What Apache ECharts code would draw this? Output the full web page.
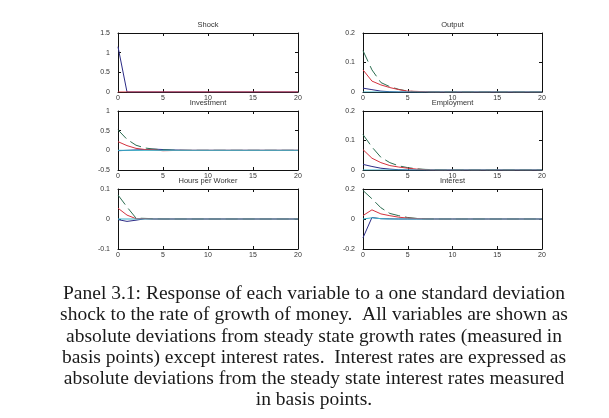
<!DOCTYPE html>
<html>
<head>
<meta charset="utf-8">
<title>Panel 3.1</title>
<script src="https://cdn.jsdelivr.net/npm/echarts@6/dist/echarts.min.js"></script>
<style>
  html, body { margin: 0; padding: 0; background: #fff; }
  #main { width: 609px; height: 418px; }
</style>
</head>
<body>
<div id="main"></div>
<script type="text/javascript">
// quarters after the shock
var steps = [0,1,2,3,4,5,6,7,8,9,10,11,12,13,14,15,16,17,18,19,20];

var panelNames = ['Shock', 'Output', 'Investment', 'Employment', 'Hours per Worker', 'Interest'];

var shockBlue   = [1.15,0,0,0,0,0,0,0,0,0,0,0,0,0,0,0,0,0,0,0,0];
var shockRed    = [0,0,0,0,0,0,0,0,0,0,0,0,0,0,0,0,0,0,0,0,0];

var outputBlue  = [0.013,0.008,0.003,0.001,0,0,0,0,0,0,0,0,0,0,0,0,0,0,0,0,0];
var outputGreen = [0.14,0.075,0.032,0.018,0.009,0.003,0.001,0,0,0,0,0,0,0,0,0,0,0,0,0,0];
var outputRed   = [0.075,0.037,0.024,0.015,0.008,0.003,0.002,0.001,0,0,0,0,0,0,0,0,0,0,0,0,0];
var outputCyan  = [0,0,0,0,0,0,0,0,0,0,0,0,0,0,0,0,0,0,0,0,0];

var invBlue     = [-0.01,0,0.01,0.02,0.03,0.02,0.01,0.005,0,0,0,0,0,0,0,0,0,0,0,0,0];
var invGreen    = [0.52,0.28,0.13,0.06,0.03,0.015,0.005,0,0,0,0,0,0,0,0,0,0,0,0,0,0];
var invRed      = [0.22,0.12,0.05,0.02,0.01,-0.01,-0.005,0,0,0,0,0,0,0,0,0,0,0,0,0,0];
var invCyan     = [0,0,0,0,0,0,0,0,0,0,0,0,0,0,0,0,0,0,0,0,0];

var empBlue     = [0.019,0.012,0.006,0.003,0.001,0,0,0,0,0,0,0,0,0,0,0,0,0,0,0,0];
var empGreen    = [0.12,0.078,0.043,0.025,0.014,0.008,0.004,0.002,0.001,0,0,0,0,0,0,0,0,0,0,0,0];
var empRed      = [0.069,0.04,0.025,0.015,0.01,0.006,0.003,0.001,0,0,0,0,0,0,0,0,0,0,0,0,0];
var empCyan     = [0,0,0,0,0,0,0,0,0,0,0,0,0,0,0,0,0,0,0,0,0];

var hoursBlue   = [-0.002,-0.008,-0.004,0.001,0,0,0,0,0,0,0,0,0,0,0,0,0,0,0,0,0];
var hoursGreen  = [0.08,0.04,0.003,0.002,0.001,0,0,0,0,0,0,0,0,0,0,0,0,0,0,0,0];
var hoursRed    = [0.036,0.013,0.001,0.001,0,0,0,0,0,0,0,0,0,0,0,0,0,0,0,0,0];
var hoursCyan   = [0,0,0,0,0,0,0,0,0,0,0,0,0,0,0,0,0,0,0,0,0];

var intBlue     = [-0.125,0.01,0.002,0.001,0,0,0,0,0,0,0,0,0,0,0,0,0,0,0,0,0];
var intGreen    = [0.19,0.135,0.075,0.037,0.022,0.01,0.004,0.001,0,0,0,0,0,0,0,0,0,0,0,0,0];
var intRed      = [0.023,0.061,0.034,0.022,0.012,0.006,0.003,0.001,0,0,0,0,0,0,0,0,0,0,0,0,0];
var intCyan     = [0,0.008,0.002,0,0,0,0,0,0,0,0,0,0,0,0,0,0,0,0,0,0];

var yMins      = [0, 0, -0.5, 0, -0.1, -0.2];
var yMaxs      = [1.5, 0.2, 1, 0.2, 0.1, 0.2];
var yIntervals = [0.5, 0.1, 0.5, 0.1, 0.1, 0.2];

var captionLines = [
  'Panel 3.1: Response of each variable to a one standard deviation',
  'shock to the rate of growth of money.  All variables are shown as',
  'absolute deviations from steady state growth rates (measured in',
  'basis points) except interest rates.  Interest rates are expressed as',
  'absolute deviations from the steady state interest rates measured',
  'in basis points.'
];

// blue, green, red, cyan per panel (shock has only blue + red)
var panelSeries = [
  [shockBlue, null, shockRed, null],
  [outputBlue, outputGreen, outputRed, outputCyan],
  [invBlue, invGreen, invRed, invCyan],
  [empBlue, empGreen, empRed, empCyan],
  [hoursBlue, hoursGreen, hoursRed, hoursCyan],
  [intBlue, intGreen, intRed, intCyan]
];
var lineColors = ['#2c2c86', '#2b6d50', '#d4323e', '#3cb3c9'];

var myChart = echarts.init(document.getElementById('main'));

var colLeft = [118, 363], colWidth = [180, 179];
var rowTop = [33, 111, 189], rowHeight = [59, 59, 60];
var tickFont = 'Liberation Sans';

var grids = [], xAxes = [], yAxes = [], series = [], graphics = [];
for (var i = 0; i < 6; i++) {
  var c = i % 2, r = Math.floor(i / 2);
  grids.push({ left: colLeft[c], top: rowTop[r], width: colWidth[c], height: rowHeight[r] });
  var line = { show: true, onZero: false, lineStyle: { color: '#111', width: 1 } };
  var tick = { show: true, inside: true, length: 3, lineStyle: { color: '#111' } };
  xAxes.push({
    gridIndex: i, type: 'value', position: 'bottom', min: 0, max: 20, interval: 5,
    axisLine: line, axisTick: tick, splitLine: { show: false },
    axisLabel: { fontSize: 7, margin: 3, color: '#333', fontFamily: tickFont }
  });
  xAxes.push({
    gridIndex: i, type: 'value', position: 'top', min: 0, max: 20, interval: 5,
    axisLine: line, axisTick: tick, splitLine: { show: false }, axisLabel: { show: false }
  });
  yAxes.push({
    gridIndex: i, type: 'value', position: 'left', min: yMins[i], max: yMaxs[i], interval: yIntervals[i],
    axisLine: line, axisTick: tick, splitLine: { show: false },
    axisLabel: { fontSize: 7, margin: 8, color: '#333', fontFamily: tickFont }
  });
  yAxes.push({
    gridIndex: i, type: 'value', position: 'right', min: yMins[i], max: yMaxs[i], interval: yIntervals[i],
    axisLine: line, axisTick: tick, splitLine: { show: false }, axisLabel: { show: false }
  });
  for (var k = 0; k < 4; k++) {
    var vals = panelSeries[i][k];
    if (!vals) continue;
    series.push({
      type: 'line',
      xAxisIndex: 2 * i, yAxisIndex: 2 * i,
      showSymbol: false, symbol: 'none', animation: false,
      lineStyle: { color: lineColors[k], width: 1, type: k === 1 ? [12, 5] : 'solid' },
      data: steps.map(function (s, j) { return [s, vals[j]]; })
    });
  }
  graphics.push({
    type: 'text',
    x: colLeft[c] + colWidth[c] / 2, y: rowTop[r] - 8,
    style: {
      text: panelNames[i], textAlign: 'center', textVerticalAlign: 'middle',
      align: 'center', verticalAlign: 'middle',
      font: '7.5px "Liberation Sans"', fill: '#333'
    }
  });
}

captionLines.forEach(function (t, n) {
  graphics.push({
    type: 'text',
    x: 314, y: 294 + n * 21.2,
    style: {
      text: t, textAlign: 'center', textVerticalAlign: 'middle',
      align: 'center', verticalAlign: 'middle',
      font: '19.5px "Liberation Serif"', fill: '#1a1a1a'
    }
  });
});

option = {
  backgroundColor: '#fff',
  animation: false,
  grid: grids,
  xAxis: xAxes,
  yAxis: yAxes,
  series: series,
  graphic: graphics
};
myChart.setOption(option);
</script>
</body>
</html>
